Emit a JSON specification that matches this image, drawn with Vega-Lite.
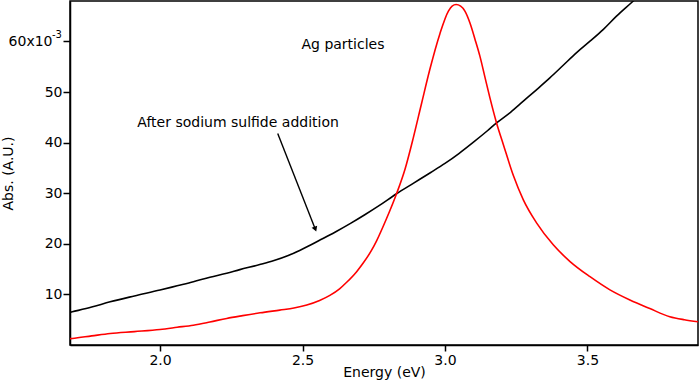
{
  "$schema": "https://vega.github.io/schema/vega-lite/v6.json",
  "width": 628,
  "height": 344,
  "autosize": {"type": "none"},
  "padding": {"left": 70, "top": 1, "right": 2, "bottom": 36},
  "view": {"stroke": "black", "strokeWidth": 1.5},
  "config": {
    "font": "DejaVu Sans",
    "view": {"stroke": "black", "strokeWidth": 1.5},
    "axis": {
      "grid": false,
      "domainColor": "black",
      "domainWidth": 1.5,
      "tickColor": "black",
      "tickWidth": 1.5,
      "labelColor": "black",
      "labelFontSize": 14,
      "labelFont": "DejaVu Sans",
      "titleFont": "DejaVu Sans",
      "titleFontSize": 14,
      "titleFontWeight": "normal",
      "titleColor": "black"
    }
  },
  "datasets": {
    "spectra": [
      {"energy": 1.684, "abs": 0.00645, "series": "After sodium sulfide addition"},
      {"energy": 1.692, "abs": 0.00656, "series": "After sodium sulfide addition"},
      {"energy": 1.76, "abs": 0.0075, "series": "After sodium sulfide addition"},
      {"energy": 1.825, "abs": 0.00854, "series": "After sodium sulfide addition"},
      {"energy": 1.91, "abs": 0.0097, "series": "After sodium sulfide addition"},
      {"energy": 2.0, "abs": 0.01086, "series": "After sodium sulfide addition"},
      {"energy": 2.06, "abs": 0.0117, "series": "After sodium sulfide addition"},
      {"energy": 2.117, "abs": 0.0125, "series": "After sodium sulfide addition"},
      {"energy": 2.175, "abs": 0.0134, "series": "After sodium sulfide addition"},
      {"energy": 2.234, "abs": 0.0142, "series": "After sodium sulfide addition"},
      {"energy": 2.28, "abs": 0.0149, "series": "After sodium sulfide addition"},
      {"energy": 2.35, "abs": 0.0159, "series": "After sodium sulfide addition"},
      {"energy": 2.40, "abs": 0.0167, "series": "After sodium sulfide addition"},
      {"energy": 2.45, "abs": 0.0177, "series": "After sodium sulfide addition"},
      {"energy": 2.49, "abs": 0.0187, "series": "After sodium sulfide addition"},
      {"energy": 2.53, "abs": 0.0198, "series": "After sodium sulfide addition"},
      {"energy": 2.57, "abs": 0.021, "series": "After sodium sulfide addition"},
      {"energy": 2.62, "abs": 0.0225, "series": "After sodium sulfide addition"},
      {"energy": 2.67, "abs": 0.0241, "series": "After sodium sulfide addition"},
      {"energy": 2.72, "abs": 0.0258, "series": "After sodium sulfide addition"},
      {"energy": 2.77, "abs": 0.0276, "series": "After sodium sulfide addition"},
      {"energy": 2.83, "abs": 0.0299, "series": "After sodium sulfide addition"},
      {"energy": 2.89, "abs": 0.032, "series": "After sodium sulfide addition"},
      {"energy": 2.95, "abs": 0.0341, "series": "After sodium sulfide addition"},
      {"energy": 3.0, "abs": 0.0359, "series": "After sodium sulfide addition"},
      {"energy": 3.05, "abs": 0.0379, "series": "After sodium sulfide addition"},
      {"energy": 3.1, "abs": 0.0401, "series": "After sodium sulfide addition"},
      {"energy": 3.15, "abs": 0.0424, "series": "After sodium sulfide addition"},
      {"energy": 3.181, "abs": 0.0439, "series": "After sodium sulfide addition"},
      {"energy": 3.23, "abs": 0.046, "series": "After sodium sulfide addition"},
      {"energy": 3.275, "abs": 0.0482, "series": "After sodium sulfide addition"},
      {"energy": 3.32, "abs": 0.0504, "series": "After sodium sulfide addition"},
      {"energy": 3.368, "abs": 0.0528, "series": "After sodium sulfide addition"},
      {"energy": 3.415, "abs": 0.0553, "series": "After sodium sulfide addition"},
      {"energy": 3.462, "abs": 0.0578, "series": "After sodium sulfide addition"},
      {"energy": 3.51, "abs": 0.0601, "series": "After sodium sulfide addition"},
      {"energy": 3.556, "abs": 0.0624, "series": "After sodium sulfide addition"},
      {"energy": 3.602, "abs": 0.065, "series": "After sodium sulfide addition"},
      {"energy": 3.655, "abs": 0.0677, "series": "After sodium sulfide addition"},
      {"energy": 3.68, "abs": 0.069, "series": "After sodium sulfide addition"},
      {"energy": 1.684, "abs": 0.00125, "series": "Ag particles"},
      {"energy": 1.692, "abs": 0.00129, "series": "Ag particles"},
      {"energy": 1.76, "abs": 0.0018, "series": "Ag particles"},
      {"energy": 1.825, "abs": 0.00228, "series": "Ag particles"},
      {"energy": 1.91, "abs": 0.00265, "series": "Ag particles"},
      {"energy": 2.0, "abs": 0.00307, "series": "Ag particles"},
      {"energy": 2.06, "abs": 0.0035, "series": "Ag particles"},
      {"energy": 2.117, "abs": 0.00392, "series": "Ag particles"},
      {"energy": 2.175, "abs": 0.00455, "series": "Ag particles"},
      {"energy": 2.234, "abs": 0.00525, "series": "Ag particles"},
      {"energy": 2.29, "abs": 0.0058, "series": "Ag particles"},
      {"energy": 2.351, "abs": 0.00636, "series": "Ag particles"},
      {"energy": 2.42, "abs": 0.0069, "series": "Ag particles"},
      {"energy": 2.47, "abs": 0.0073, "series": "Ag particles"},
      {"energy": 2.515, "abs": 0.0079, "series": "Ag particles"},
      {"energy": 2.56, "abs": 0.0088, "series": "Ag particles"},
      {"energy": 2.596, "abs": 0.0098, "series": "Ag particles"},
      {"energy": 2.63, "abs": 0.0111, "series": "Ag particles"},
      {"energy": 2.655, "abs": 0.0124, "series": "Ag particles"},
      {"energy": 2.69, "abs": 0.0145, "series": "Ag particles"},
      {"energy": 2.713, "abs": 0.0162, "series": "Ag particles"},
      {"energy": 2.74, "abs": 0.0185, "series": "Ag particles"},
      {"energy": 2.76, "abs": 0.0206, "series": "Ag particles"},
      {"energy": 2.795, "abs": 0.025, "series": "Ag particles"},
      {"energy": 2.83, "abs": 0.0299, "series": "Ag particles"},
      {"energy": 2.86, "abs": 0.0348, "series": "Ag particles"},
      {"energy": 2.889, "abs": 0.041, "series": "Ag particles"},
      {"energy": 2.918, "abs": 0.0478, "series": "Ag particles"},
      {"energy": 2.947, "abs": 0.0545, "series": "Ag particles"},
      {"energy": 2.982, "abs": 0.0615, "series": "Ag particles"},
      {"energy": 3.012, "abs": 0.066, "series": "Ag particles"},
      {"energy": 3.025, "abs": 0.067, "series": "Ag particles"},
      {"energy": 3.039, "abs": 0.0673, "series": "Ag particles"},
      {"energy": 3.055, "abs": 0.067, "series": "Ag particles"},
      {"energy": 3.07, "abs": 0.066, "series": "Ag particles"},
      {"energy": 3.088, "abs": 0.0636, "series": "Ag particles"},
      {"energy": 3.105, "abs": 0.0605, "series": "Ag particles"},
      {"energy": 3.123, "abs": 0.057, "series": "Ag particles"},
      {"energy": 3.14, "abs": 0.053, "series": "Ag particles"},
      {"energy": 3.158, "abs": 0.0488, "series": "Ag particles"},
      {"energy": 3.181, "abs": 0.0439, "series": "Ag particles"},
      {"energy": 3.205, "abs": 0.0396, "series": "Ag particles"},
      {"energy": 3.24, "abs": 0.0335, "series": "Ag particles"},
      {"energy": 3.275, "abs": 0.0287, "series": "Ag particles"},
      {"energy": 3.322, "abs": 0.0241, "series": "Ag particles"},
      {"energy": 3.38, "abs": 0.0198, "series": "Ag particles"},
      {"energy": 3.439, "abs": 0.0165, "series": "Ag particles"},
      {"energy": 3.509, "abs": 0.0135, "series": "Ag particles"},
      {"energy": 3.579, "abs": 0.0109, "series": "Ag particles"},
      {"energy": 3.649, "abs": 0.0089, "series": "Ag particles"},
      {"energy": 3.719, "abs": 0.0072, "series": "Ag particles"},
      {"energy": 3.789, "abs": 0.0056, "series": "Ag particles"},
      {"energy": 3.84, "abs": 0.005, "series": "Ag particles"},
      {"energy": 3.888, "abs": 0.0046, "series": "Ag particles"}
    ],
    "notes": [
      {"energy": 2.642, "abs": 0.0594, "label": "Ag particles"},
      {"energy": 2.274, "abs": 0.0438, "label": "After sodium sulfide addition"}
    ],
    "exponent": [
      {"energy": 1.684, "abs": 0.06, "label": "-3"}
    ],
    "arrow": [
      {"energy": 2.413, "abs": 0.0418, "energy2": 2.545, "abs2": 0.0229}
    ]
  },
  "layer": [
    {
      "data": {"name": "spectra"},
      "mark": {"type": "line", "strokeWidth": 1.6, "clip": true, "interpolate": "monotone"},
      "encoding": {
        "x": {
          "field": "energy", "type": "quantitative",
          "scale": {"domain": [1.684, 3.888], "nice": false, "zero": false},
          "axis": {
            "title": "Energy (eV)",
            "values": [2.0, 2.5, 3.0, 3.5],
            "format": ".1f",
            "tickSize": 6,
            "labelPadding": 2,
            "titlePadding": -2
          }
        },
        "y": {
          "field": "abs", "type": "quantitative",
          "scale": {"domain": [0, 0.068], "nice": false, "zero": false},
          "axis": {
            "title": "Abs. (A.U.)",
            "values": [0.01, 0.02, 0.03, 0.04, 0.05, 0.06],
            "labelExpr": "datum.value > 0.055 ? '60x10' : format(datum.value * 1000, 'd')",
            "tickSize": 7,
            "labelPadding": {"condition": {"test": "datum.value > 0.055", "value": 11}, "value": 1},
            "titleX": -62,
            "titleBaseline": "middle"
          }
        },
        "color": {
          "field": "series", "type": "nominal",
          "scale": {"domain": ["Ag particles", "After sodium sulfide addition"], "range": ["#ff0000", "#000000"]},
          "legend": null
        },
        "detail": {"field": "series"}
      }
    },
    {
      "data": {"name": "notes"},
      "mark": {"type": "text", "fontSize": 14, "font": "DejaVu Sans", "color": "black", "align": "center", "baseline": "middle"},
      "encoding": {
        "x": {"field": "energy", "type": "quantitative"},
        "y": {"field": "abs", "type": "quantitative"},
        "text": {"field": "label"}
      }
    },
    {
      "data": {"name": "exponent"},
      "mark": {"type": "text", "fontSize": 10, "font": "DejaVu Sans", "color": "black", "align": "center", "baseline": "middle", "dx": -13, "dy": -6, "clip": false},
      "encoding": {
        "x": {"field": "energy", "type": "quantitative"},
        "y": {"field": "abs", "type": "quantitative"},
        "text": {"field": "label"}
      }
    },
    {
      "data": {"name": "arrow"},
      "mark": {"type": "rule", "color": "black", "strokeWidth": 1.4},
      "encoding": {
        "x": {"field": "energy", "type": "quantitative"},
        "y": {"field": "abs", "type": "quantitative"},
        "x2": {"field": "energy2"},
        "y2": {"field": "abs2"}
      }
    },
    {
      "data": {"name": "arrow"},
      "mark": {"type": "point", "shape": "triangle-up", "filled": true, "color": "black", "size": 35, "angle": 158.5, "opacity": 1},
      "encoding": {
        "x": {"field": "energy2", "type": "quantitative"},
        "y": {"field": "abs2", "type": "quantitative"}
      }
    }
  ]
}
